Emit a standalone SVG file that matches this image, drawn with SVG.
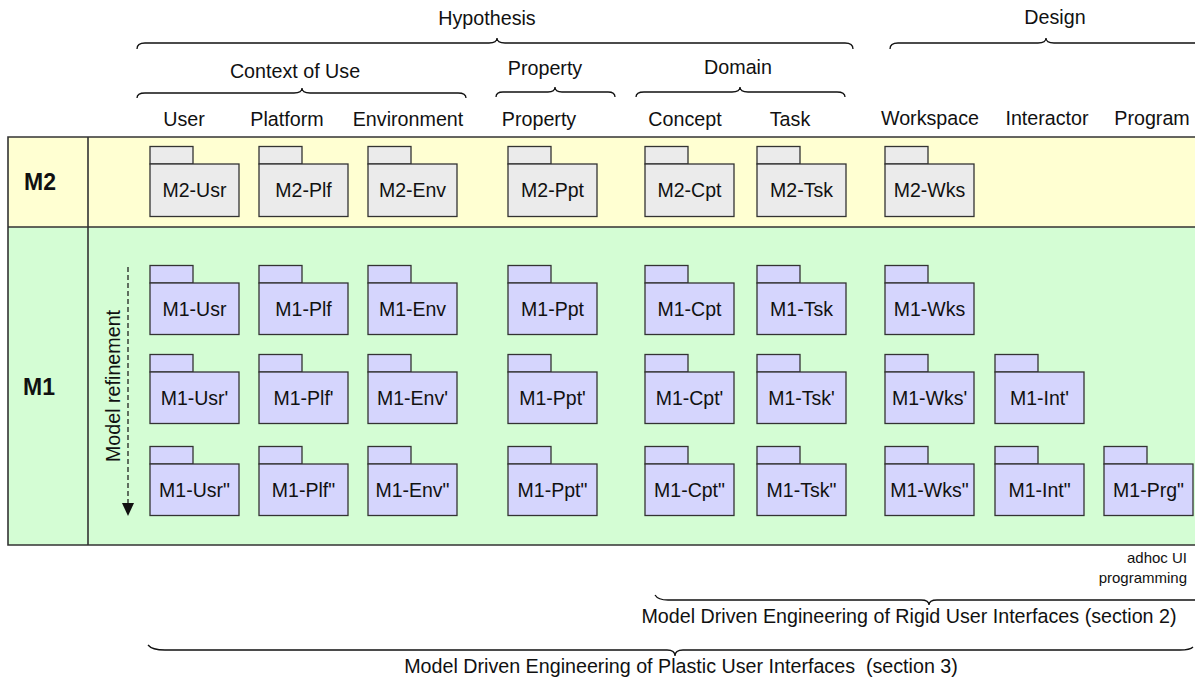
<svg xmlns="http://www.w3.org/2000/svg" width="1195" height="681" viewBox="0 0 1195 681">
<style>
text{font-family:"Liberation Sans",Arial,sans-serif;fill:#111;}
.h{font-size:19.7px;text-anchor:middle;}
.lbl{font-size:19.5px;text-anchor:middle;}
.big{font-size:23px;font-weight:bold;text-anchor:middle;}
.small{font-size:15px;text-anchor:end;}
.brace{fill:none;stroke:#111;stroke-width:1.3;}
.grid{fill:none;stroke:#333;stroke-width:1.6;}
.tab2,.body2{fill:#ebebeb;stroke:#333;stroke-width:1.3;}
.tab1,.body1{fill:#d5d5fd;stroke:#333;stroke-width:1.3;}
</style>
<defs>
<marker id="arr" markerWidth="12" markerHeight="12" refX="6" refY="11" orient="auto" markerUnits="userSpaceOnUse" viewBox="0 0 12 12">
<path d="M0,0 L12,0 L6,12 Z" fill="#111" transform="rotate(-90 6 6)"/>
</marker>
</defs>
<g id="table">
<rect x="8" y="137" width="1190" height="90" fill="#ffffd2"/>
<rect x="8" y="227" width="1190" height="318" fill="#d4fdd4"/>
<path class="grid" d="M1196,137 H8 V545 H1196 M8,227 H1196 M88,137 V545"/>
<text class="big" x="40" y="190">M2</text>
<text class="big" x="39" y="395">M1</text>
</g>
<g id="headers">
<text class="h" x="487" y="25">Hypothesis</text>
<text class="h" x="1055" y="24">Design</text>
<text class="h" x="295" y="78">Context of Use</text>
<text class="h" x="545" y="75">Property</text>
<text class="h" x="738" y="74">Domain</text>
<text class="h" x="184" y="126">User</text>
<text class="h" x="287" y="126">Platform</text>
<text class="h" x="408" y="126">Environment</text>
<text class="h" x="539" y="126">Property</text>
<text class="h" x="685" y="126">Concept</text>
<text class="h" x="790" y="126">Task</text>
<text class="h" x="930" y="125">Workspace</text>
<text class="h" x="1047" y="125">Interactor</text>
<text class="h" x="1152" y="125">Program</text>
</g>
<g id="braces">
<path class="brace" d="M137,49 Q137,43 145,43 L489,43 Q497,43 497,38 Q497,43 505,43 L845,43 Q853,43 853,49"/>
<path class="brace" d="M890,49 Q890,43 898,43 L1038,43 Q1046,43 1046,38 Q1046,43 1054,43 L1200,43"/>
<path class="brace" d="M137,98 Q137,93 145,93 L294,93 Q302,93 302,88 Q302,93 310,93 L458,93 Q466,93 466,98"/>
<path class="brace" d="M496,97 Q496,92 503,92 L548,92 Q555,92 555,87 Q555,92 562,92 L608,92 Q615,92 615,97"/>
<path class="brace" d="M636,97 Q636,92 644,92 L732,92 Q740,92 740,87 Q740,92 748,92 L837,92 Q845,92 845,97"/>
<path class="brace" d="M655,595 Q658,600 668,600 L921,600 Q929,600 929,605 Q929,600 937,600 L1200,600"/>
<path class="brace" d="M148,645 Q152,650 165,650 L667,650 Q675,650 675,656 Q675,650 683,650 L1180,650 Q1190,650 1193,647"/>
</g>
<g id="footer">
<text class="small" x="1187" y="563">adhoc UI</text>
<text class="small" x="1187" y="583">programming</text>
<text class="h" x="909" y="623">Model Driven Engineering of Rigid User Interfaces (section 2)</text>
<text class="h" x="681" y="673" xml:space="preserve">Model Driven Engineering of Plastic User Interfaces  (section 3)</text>
</g>
<g id="connectors">
<path d="M128,267 V505" stroke="#111" stroke-width="1.2" stroke-dasharray="5,3" fill="none"/>
<path d="M122,503 L134,503 L128,516 Z" fill="#111"/>
<text class="h" transform="translate(120,386) rotate(-90)">Model refinement</text>
</g>
<g id="m2-usr" transform="translate(150,146.5)"><rect class="tab2" width="43" height="17.5"/><rect class="body2" y="17.5" width="89" height="52.5"/><text class="lbl" x="44.5" y="50.5">M2-Usr</text></g>
<g id="m2-plf" transform="translate(259,146.5)"><rect class="tab2" width="43" height="17.5"/><rect class="body2" y="17.5" width="89" height="52.5"/><text class="lbl" x="44.5" y="50.5">M2-Plf</text></g>
<g id="m2-env" transform="translate(368,146.5)"><rect class="tab2" width="43" height="17.5"/><rect class="body2" y="17.5" width="89" height="52.5"/><text class="lbl" x="44.5" y="50.5">M2-Env</text></g>
<g id="m2-ppt" transform="translate(508,146.5)"><rect class="tab2" width="43" height="17.5"/><rect class="body2" y="17.5" width="89" height="52.5"/><text class="lbl" x="44.5" y="50.5">M2-Ppt</text></g>
<g id="m2-cpt" transform="translate(645,146.5)"><rect class="tab2" width="43" height="17.5"/><rect class="body2" y="17.5" width="89" height="52.5"/><text class="lbl" x="44.5" y="50.5">M2-Cpt</text></g>
<g id="m2-tsk" transform="translate(757,146.5)"><rect class="tab2" width="43" height="17.5"/><rect class="body2" y="17.5" width="89" height="52.5"/><text class="lbl" x="44.5" y="50.5">M2-Tsk</text></g>
<g id="m2-wks" transform="translate(885,146.5)"><rect class="tab2" width="43" height="17.5"/><rect class="body2" y="17.5" width="89" height="52.5"/><text class="lbl" x="44.5" y="50.5">M2-Wks</text></g>

<g id="m1-usr" transform="translate(150,265.5)"><rect class="tab1" width="43" height="17.5"/><rect class="body1" y="17.5" width="89" height="51.5"/><text class="lbl" x="44.5" y="50">M1-Usr</text></g>
<g id="m1-plf" transform="translate(259,265.5)"><rect class="tab1" width="43" height="17.5"/><rect class="body1" y="17.5" width="89" height="51.5"/><text class="lbl" x="44.5" y="50">M1-Plf</text></g>
<g id="m1-env" transform="translate(368,265.5)"><rect class="tab1" width="43" height="17.5"/><rect class="body1" y="17.5" width="89" height="51.5"/><text class="lbl" x="44.5" y="50">M1-Env</text></g>
<g id="m1-ppt" transform="translate(508,265.5)"><rect class="tab1" width="43" height="17.5"/><rect class="body1" y="17.5" width="89" height="51.5"/><text class="lbl" x="44.5" y="50">M1-Ppt</text></g>
<g id="m1-cpt" transform="translate(645,265.5)"><rect class="tab1" width="43" height="17.5"/><rect class="body1" y="17.5" width="89" height="51.5"/><text class="lbl" x="44.5" y="50">M1-Cpt</text></g>
<g id="m1-tsk" transform="translate(757,265.5)"><rect class="tab1" width="43" height="17.5"/><rect class="body1" y="17.5" width="89" height="51.5"/><text class="lbl" x="44.5" y="50">M1-Tsk</text></g>
<g id="m1-wks" transform="translate(885,265.5)"><rect class="tab1" width="43" height="17.5"/><rect class="body1" y="17.5" width="89" height="51.5"/><text class="lbl" x="44.5" y="50">M1-Wks</text></g>

<g id="m1-usr1" transform="translate(150,354.5)"><rect class="tab1" width="43" height="17.5"/><rect class="body1" y="17.5" width="89" height="51.5"/><text class="lbl" x="44.5" y="50">M1-Usr'</text></g>
<g id="m1-plf1" transform="translate(259,354.5)"><rect class="tab1" width="43" height="17.5"/><rect class="body1" y="17.5" width="89" height="51.5"/><text class="lbl" x="44.5" y="50">M1-Plf'</text></g>
<g id="m1-env1" transform="translate(368,354.5)"><rect class="tab1" width="43" height="17.5"/><rect class="body1" y="17.5" width="89" height="51.5"/><text class="lbl" x="44.5" y="50">M1-Env'</text></g>
<g id="m1-ppt1" transform="translate(508,354.5)"><rect class="tab1" width="43" height="17.5"/><rect class="body1" y="17.5" width="89" height="51.5"/><text class="lbl" x="44.5" y="50">M1-Ppt'</text></g>
<g id="m1-cpt1" transform="translate(645,354.5)"><rect class="tab1" width="43" height="17.5"/><rect class="body1" y="17.5" width="89" height="51.5"/><text class="lbl" x="44.5" y="50">M1-Cpt'</text></g>
<g id="m1-tsk1" transform="translate(757,354.5)"><rect class="tab1" width="43" height="17.5"/><rect class="body1" y="17.5" width="89" height="51.5"/><text class="lbl" x="44.5" y="50">M1-Tsk'</text></g>
<g id="m1-wks1" transform="translate(885,354.5)"><rect class="tab1" width="43" height="17.5"/><rect class="body1" y="17.5" width="89" height="51.5"/><text class="lbl" x="44.5" y="50">M1-Wks'</text></g>
<g id="m1-int1" transform="translate(995,354.5)"><rect class="tab1" width="43" height="17.5"/><rect class="body1" y="17.5" width="89" height="51.5"/><text class="lbl" x="44.5" y="50">M1-Int'</text></g>

<g id="m1-usr2" transform="translate(150,446.5)"><rect class="tab1" width="43" height="17.5"/><rect class="body1" y="17.5" width="89" height="51.5"/><text class="lbl" x="44.5" y="50">M1-Usr"</text></g>
<g id="m1-plf2" transform="translate(259,446.5)"><rect class="tab1" width="43" height="17.5"/><rect class="body1" y="17.5" width="89" height="51.5"/><text class="lbl" x="44.5" y="50">M1-Plf"</text></g>
<g id="m1-env2" transform="translate(368,446.5)"><rect class="tab1" width="43" height="17.5"/><rect class="body1" y="17.5" width="89" height="51.5"/><text class="lbl" x="44.5" y="50">M1-Env"</text></g>
<g id="m1-ppt2" transform="translate(508,446.5)"><rect class="tab1" width="43" height="17.5"/><rect class="body1" y="17.5" width="89" height="51.5"/><text class="lbl" x="44.5" y="50">M1-Ppt"</text></g>
<g id="m1-cpt2" transform="translate(645,446.5)"><rect class="tab1" width="43" height="17.5"/><rect class="body1" y="17.5" width="89" height="51.5"/><text class="lbl" x="44.5" y="50">M1-Cpt"</text></g>
<g id="m1-tsk2" transform="translate(757,446.5)"><rect class="tab1" width="43" height="17.5"/><rect class="body1" y="17.5" width="89" height="51.5"/><text class="lbl" x="44.5" y="50">M1-Tsk"</text></g>
<g id="m1-wks2" transform="translate(885,446.5)"><rect class="tab1" width="43" height="17.5"/><rect class="body1" y="17.5" width="89" height="51.5"/><text class="lbl" x="44.5" y="50">M1-Wks"</text></g>
<g id="m1-int2" transform="translate(995,446.5)"><rect class="tab1" width="43" height="17.5"/><rect class="body1" y="17.5" width="89" height="51.5"/><text class="lbl" x="44.5" y="50">M1-Int"</text></g>
<g id="m1-prg2" transform="translate(1104,446.5)"><rect class="tab1" width="43" height="17.5"/><rect class="body1" y="17.5" width="89" height="51.5"/><text class="lbl" x="44.5" y="50">M1-Prg"</text></g>
</svg>
